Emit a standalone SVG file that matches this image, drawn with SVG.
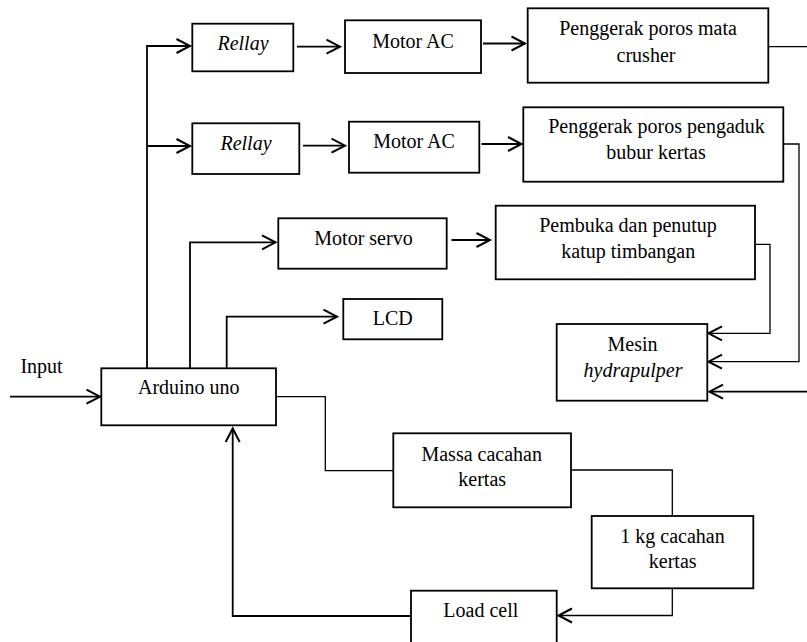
<svg xmlns="http://www.w3.org/2000/svg" width="807" height="642" viewBox="0 0 807 642">
<style>
.box{fill:#fff;stroke:#000;stroke-width:1.8}
.t{font-family:"Liberation Serif","Times New Roman",serif;font-size:20px;fill:#000;text-anchor:middle}
.i{font-style:italic}
.c{fill:none;stroke:#000;stroke-width:1.8}
.thin{fill:none;stroke:#000;stroke-width:1.3}
</style>
<defs>
<marker id="ah" markerUnits="userSpaceOnUse" markerWidth="16" markerHeight="16" refX="14" refY="7" orient="auto" overflow="visible">
<path d="M0.5,0 L14,7 L0.5,14" fill="none" stroke="#000" stroke-width="2"/>
</marker>
</defs>
<rect width="807" height="642" fill="#fff"/>
<g id="connectors">
<path class="c" d="M147,368 V46 H190" marker-end="url(#ah)"/>
<path class="c" d="M147,146 H190" marker-end="url(#ah)"/>
<path class="c" d="M297,46.7 H340" marker-end="url(#ah)"/>
<path class="c" d="M303,145.7 H345" marker-end="url(#ah)"/>
<path class="c" d="M483,43.5 H525" marker-end="url(#ah)"/>
<path class="c" d="M481.5,144 H521.5" marker-end="url(#ah)"/>
<path class="c" d="M190,368 V242.3 H275.5" marker-end="url(#ah)"/>
<path class="c" d="M451.5,240 H490" marker-end="url(#ah)"/>
<path class="c" d="M226.7,368 V316.7 H337" marker-end="url(#ah)"/>
<path class="c" d="M10,396.7 H100" marker-end="url(#ah)"/>
<path class="thin" d="M768,46.7 H807"/>
<path class="thin" d="M783,144 H799 V361.7 H708.5" marker-end="url(#ah)"/>
<path class="thin" d="M755,244.3 H770 V333.3 H708.5" marker-end="url(#ah)"/>
<path class="c" d="M807,391.7 H709.5" marker-end="url(#ah)"/>
<path class="thin" d="M276,396.7 H325.3 V470.7 H393"/>
<path class="thin" d="M571,470 H672.3 V516"/>
<path class="thin" d="M672.3,588 V615.5 H558.5" marker-end="url(#ah)"/>
<path class="c" d="M411,616 H232.7 V428.5" marker-end="url(#ah)"/>
</g>
<g id="rellay1"><rect class="box" x="192.3" y="23.7" width="101" height="47.6"/><text class="t i" x="243" y="49.5">Rellay</text></g>
<g id="motorac1"><rect class="box" x="345" y="20.3" width="136" height="52.7"/><text class="t" x="413" y="47.7">Motor AC</text></g>
<g id="penggerak-mata"><rect class="box" x="527.7" y="8.3" width="240.6" height="74.4"/><text class="t" x="648" y="35">Penggerak poros mata</text><text class="t" x="646" y="61.7">crusher</text></g>
<g id="rellay2"><rect class="box" x="192.3" y="123.3" width="107" height="50.7"/><text class="t i" x="246" y="150">Rellay</text></g>
<g id="motorac2"><rect class="box" x="349" y="121.7" width="130.3" height="51"/><text class="t" x="414" y="148.3">Motor AC</text></g>
<g id="penggerak-pengaduk"><rect class="box" x="523.3" y="107.3" width="260" height="74.4"/><text class="t" x="656.5" y="132.7">Penggerak poros pengaduk</text><text class="t" x="656" y="159.3">bubur kertas</text></g>
<g id="motorservo"><rect class="box" x="278.3" y="218.3" width="168.4" height="50.4"/><text class="t" x="363.5" y="245">Motor servo</text></g>
<g id="pembuka"><rect class="box" x="495.7" y="205.7" width="259.3" height="73.6"/><text class="t" x="628" y="231.7">Pembuka dan penutup</text><text class="t" x="628.3" y="258.3">katup timbangan</text></g>
<g id="lcd"><rect class="box" x="343.3" y="299" width="99" height="40.3"/><text class="t" x="392.7" y="325">LCD</text></g>
<g id="mesin"><rect class="box" x="556.7" y="324" width="150.6" height="76.7"/><text class="t" x="632.5" y="350.7">Mesin</text><text class="t i" x="633" y="376.7">hydrapulper</text></g>
<g id="input"><text class="t" x="41.5" y="373.3">Input</text></g>
<g id="arduino"><rect class="box" x="101.3" y="368.3" width="174.7" height="57"/><text class="t" x="188.8" y="394.3">Arduino uno</text></g>
<g id="massa"><rect class="box" x="393.3" y="433.3" width="177.7" height="74"/><text class="t" x="481.7" y="460.7">Massa cacahan</text><text class="t" x="482.2" y="486">kertas</text></g>
<g id="satukg"><rect class="box" x="591.7" y="516" width="161.6" height="72.3"/><text class="t" x="672.5" y="542.7">1 kg cacahan</text><text class="t" x="672.7" y="568.3">kertas</text></g>
<g id="loadcell"><rect class="box" x="411" y="590.7" width="145.7" height="60"/><text class="t" x="480.8" y="616.7">Load cell</text></g>
</svg>
